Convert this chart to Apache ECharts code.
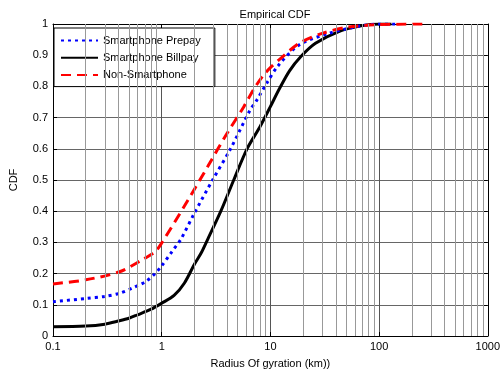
<!DOCTYPE html>
<html>
<head>
<meta charset="utf-8">
<script src="https://cdn.jsdelivr.net/npm/echarts@6/dist/echarts.min.js"></script>
<style>
  html, body { margin: 0; padding: 0; background: #fff; }
  #chart { width: 503px; height: 376px; }
</style>
</head>
<body>
<div id="chart"></div>
<script>
// 数据：经验累积分布
const billpayX = [0.1, 0.2, 0.3, 0.4, 0.5, 0.6, 0.8, 1.0, 1.3, 1.62, 2.0, 2.3, 2.65, 3.5, 4.6, 6.1, 8.0, 10, 12, 15, 19, 26, 42, 68, 100, 130]
const billpayY = [0.03, 0.032, 0.038, 0.048, 0.057, 0.068, 0.086, 0.105, 0.13, 0.17, 0.23, 0.265, 0.31, 0.40, 0.50, 0.60, 0.67, 0.735, 0.79, 0.85, 0.895, 0.938, 0.975, 0.994, 1.0, 1.0]

const prepayX = [0.1, 0.2, 0.3, 0.41, 0.55, 0.71, 0.87, 1.0, 1.24, 1.5, 2.0, 2.94, 4.3, 6.5, 7.5, 9.25, 11.7, 18.4, 34.5, 68, 100, 150]
const prepayY = [0.11, 0.12, 0.127, 0.137, 0.155, 0.174, 0.2, 0.225, 0.27, 0.31, 0.394, 0.5, 0.60, 0.724, 0.756, 0.81, 0.865, 0.933, 0.97, 0.994, 1.0, 1.0]

const nonSmartX = [0.1, 0.2, 0.41, 0.66, 0.87, 1.0, 1.75, 2.65, 4.0, 5.7, 7.0, 8.6, 10, 12, 18.4, 30, 52, 100, 257]
const nonSmartY = [0.167, 0.18, 0.206, 0.244, 0.27, 0.298, 0.436, 0.543, 0.65, 0.735, 0.79, 0.835, 0.86, 0.885, 0.938, 0.97, 0.99, 0.998, 1.0]

const minorGridX = [0.2, 0.3, 0.4, 0.5, 0.6, 0.7, 0.8, 0.9, 2, 3, 4, 5, 6, 7, 8, 9, 20, 30, 40, 50, 60, 70, 80, 90, 200, 300, 400, 500, 600, 700, 800, 900]

const zip = (xs, ys) => xs.map((x, i) => [x, ys[i]])

const chart = echarts.init(document.getElementById('chart'))
const font = 'Liberation Sans, Arial, sans-serif'

const axisX = (pos, labels) => ({
  type: 'log',
  logBase: 10,
  min: 0.1,
  max: 1000,
  position: pos,
  name: labels ? 'Radius Of gyration (km))' : '',
  nameLocation: 'middle',
  nameGap: 22,
  nameTextStyle: { color: '#000', fontSize: 11, fontFamily: font },
  axisLine: { show: true, onZero: false, lineStyle: { color: '#000', width: 1 } },
  axisTick: { show: true, inside: true, length: 4, lineStyle: { color: '#000' } },
  axisLabel: {
    show: labels, color: '#000', fontSize: 11, fontFamily: font, margin: 5,
    formatter: v => String(Number(v.toPrecision(3)))
  },
  splitLine: { show: labels, lineStyle: { color: '#555', width: 1 } },
  minorTick: { show: false },
  minorSplitLine: { show: false }
})

const axisY = (pos, labels) => ({
  type: 'value',
  min: 0,
  max: 1,
  interval: 0.1,
  position: pos,
  name: labels ? 'CDF' : '',
  nameLocation: 'middle',
  nameGap: 34,
  nameTextStyle: { color: '#000', fontSize: 11, fontFamily: font },
  axisLine: { show: true, onZero: false, lineStyle: { color: '#000', width: 1 } },
  axisTick: { show: true, inside: true, length: 4, lineStyle: { color: '#000' } },
  axisLabel: {
    show: labels, color: '#000', fontSize: 11, fontFamily: font, margin: 5,
    formatter: v => String(Math.round(v * 10) / 10)
  },
  splitLine: { show: labels, lineStyle: { color: '#666', width: 1 } }
})

const lineSeries = (name, data, color, type, z) => ({
  name,
  type: 'line',
  data,
  symbol: 'none',
  showSymbol: false,
  smooth: 0.3,
  z,
  lineStyle: { color, width: 3, type },
  itemStyle: { color }
})

const option = {
  animation: false,
  backgroundColor: '#fff',
  title: {
    text: 'Empirical CDF',
    left: 270,
    textAlign: 'center',
    top: 4,
    textStyle: { color: '#000', fontSize: 11, fontWeight: 'normal', fontFamily: font }
  },
  grid: { left: 49, right: 11, top: 24, bottom: 40, containLabel: false },
  legend: {
    orient: 'vertical',
    left: 54,
    top: 28,
    padding: [7, 14, 6, 6],
    itemGap: 6,
    itemWidth: 37,
    itemHeight: 14,
    backgroundColor: '#fff',
    borderColor: '#000',
    borderWidth: 1,
    borderRadius: 0,
    itemStyle: { opacity: 0 },
    textStyle: { color: '#000', fontSize: 11, fontFamily: font },
    data: ['Smartphone Prepay', 'Smartphone Billpay', 'Non-Smartphone']
  },
  xAxis: [axisX('bottom', true), axisX('top', false)],
  yAxis: [axisY('left', true), axisY('right', false)],
  series: [
    {
      name: 'minor-grid',
      type: 'line',
      data: [],
      silent: true,
      markLine: {
        silent: true,
        symbol: 'none',
        label: { show: false },
        lineStyle: { color: '#999', width: 1, type: 'solid' },
        data: minorGridX.map(x => ({ xAxis: x }))
      }
    },
    lineSeries('Smartphone Prepay', zip(prepayX, prepayY), '#0000ff', [3, 4], 3),
    lineSeries('Smartphone Billpay', zip(billpayX, billpayY), '#000000', 'solid', 2),
    lineSeries('Non-Smartphone', zip(nonSmartX, nonSmartY), '#ff0000', [10, 6], 4)
  ]
}

chart.setOption(option)
window.addEventListener('resize', () => chart.resize())
</script>
</body>
</html>
